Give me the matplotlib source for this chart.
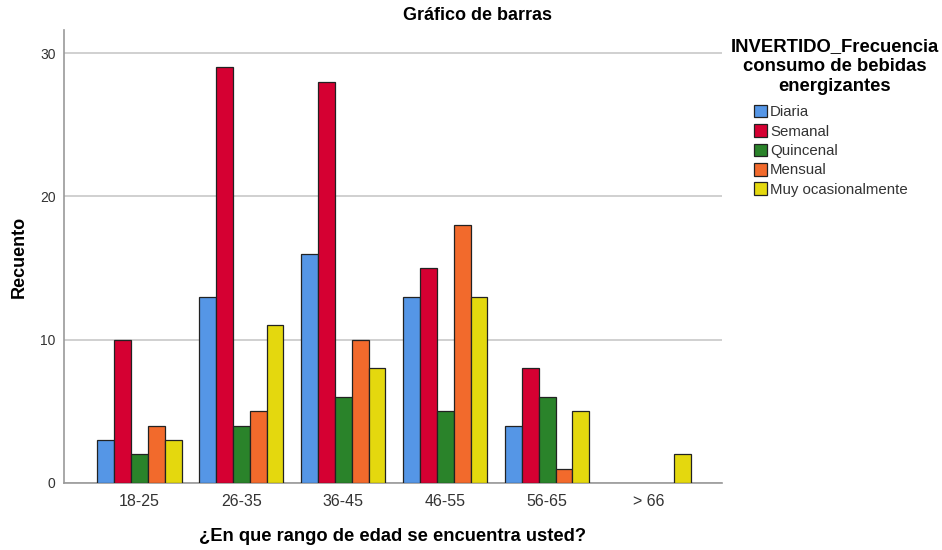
import numpy as np
import matplotlib.pyplot as plt
from matplotlib.patches import Patch

plt.rcParams['font.family'] = ['Liberation Sans', 'DejaVu Sans']

# Datos
categorias = ['18-25', '26-35', '36-45', '46-55', '56-65', '> 66']
diaria = [3, 13, 16, 13, 4, 0]
semanal = [10, 29, 28, 15, 8, 0]
quincenal = [2, 4, 6, 5, 6, 0]
mensual = [4, 5, 10, 18, 1, 0]
muy_ocasional = [3, 11, 8, 13, 5, 2]

series = ['Diaria', 'Semanal', 'Quincenal', 'Mensual', 'Muy ocasionalmente']
valores = [diaria, semanal, quincenal, mensual, muy_ocasional]
colores = ['#5596E6', '#D50032', '#2A832A', '#F26A2C', '#E4D80E']

fig = plt.figure(figsize=(9.42, 5.5), dpi=100)
ax = fig.add_axes([0.068, 0.122, 0.698, 0.823])

x = np.arange(len(categorias))
ancho = 0.165
for i, (nombre, vals, col) in enumerate(zip(series, valores, colores)):
    pos = x + (i - 2) * ancho
    v = np.array(vals)
    mask = v > 0
    ax.bar(pos[mask], v[mask], width=ancho, color=col,
           edgecolor='#222222', linewidth=0.9, zorder=3)

ax.set_xlim(-0.74, 5.71)
ax.set_ylim(0, 31.6)
ax.set_yticks([0, 10, 20, 30])
ax.set_xticks(x)
ax.set_xticklabels(categorias)
ax.grid(axis='y', color='#C8C8C8', linewidth=1.2, zorder=0)
ax.tick_params(axis='x', length=0, labelsize=11.5, colors='#333333', pad=8)
ax.tick_params(axis='y', length=0, labelsize=10, colors='#333333', pad=6)
for s in ['top', 'right']:
    ax.spines[s].set_visible(False)
for s in ['left', 'bottom']:
    ax.spines[s].set_color('#999999')
    ax.spines[s].set_linewidth(1.2)

ax.set_ylabel('Recuento', fontsize=13, weight='bold', labelpad=9)
ax.set_xlabel('¿En que rango de edad se encuentra usted?', fontsize=13.2,
              weight='bold', labelpad=14)
fig.text(0.507, 0.972, 'Gráfico de barras', ha='center', va='center',
         fontsize=13, weight='bold')

# Titulo de la leyenda
fig.text(0.886, 0.930, 'INVERTIDO_Frecuencia\nconsumo de bebidas\nenergizantes',
         ha='center', va='top', multialignment='center',
         fontsize=13.3, weight='bold', linespacing=1.2)

handles = [Patch(facecolor=c, edgecolor='#222222', linewidth=0.9) for c in colores]
leg = fig.legend(handles, series, loc='upper left',
                 bbox_to_anchor=(0.800, 0.809), frameon=False,
                 fontsize=10.8, handlelength=0.9, handleheight=0.9,
                 handletextpad=0.2, labelspacing=0.33, borderpad=0,
                 borderaxespad=0)
for t in leg.get_texts():
    t.set_color('#333333')

plt.savefig('out.png', dpi=100)
